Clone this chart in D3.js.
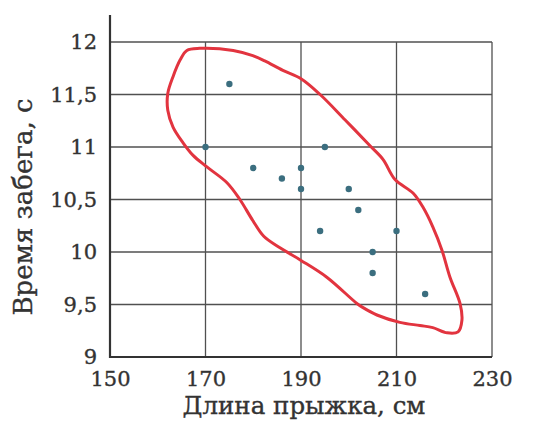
<!DOCTYPE html>
<html><head><meta charset="utf-8">
<script src="https://cdn.jsdelivr.net/npm/d3@7"></script>
<style>body{margin:0;background:#fff}svg{display:block}</style>
</head><body>
<svg id="c" width="536" height="421"></svg>
<script>
const xTicks = [150, 170, 190, 210, 230];
const yTicks = [9, 9.5, 10, 10.5, 11, 11.5, 12];
const jumpLength = [170, 175, 180, 186, 190, 190, 195, 200, 202, 194, 210, 205, 205, 216];
const runTime    = [11.0, 11.6, 10.8, 10.7, 10.8, 10.6, 11.0, 10.6, 10.4, 10.2, 10.2, 10.0, 9.8, 9.6];
const contourX = [166.1,168.8,175.8,179.9,182.4,186.2,190.0,194.0,199.2,204.5,207.2,209.7,213.5,215.5,217.6,219.5,221.2,223.3,223.7,222.9,220.6,217.6,214.9,210.7,205.9,203.0,201.7,195.4,190.0,185.6,182.2,179.9,177.2,174.5,170.3,167.4,165.3,163.2,162.1,162.1,163.2,164.7];
const contourY = [11.92,11.94,11.92,11.87,11.82,11.73,11.65,11.50,11.26,11.01,10.88,10.69,10.56,10.43,10.24,10.02,9.76,9.51,9.35,9.24,9.23,9.28,9.30,9.33,9.40,9.47,9.51,9.76,9.92,10.04,10.15,10.30,10.50,10.66,10.81,10.92,11.04,11.19,11.35,11.51,11.67,11.83];
const xTitle = "Длина прыжка, см";
const yTitle = "Время забега, с";

const svg = d3.select("#c");
const font = "'DejaVu Serif', serif";
const ink = "#333";
const x = d3.scaleLinear().domain([150, 230]).range([110, 492]);
const y = d3.scaleLinear().domain([9, 12]).range([357, 42]);

// grid
const grid = svg.append("g");
grid.selectAll("line.v").data(xTicks.slice(1)).join("line")
  .attr("x1", d => x(d)).attr("x2", d => x(d))
  .attr("y1", y(12)).attr("y2", y(9))
  .attr("stroke", "#505050").attr("stroke-width", 1.3);
grid.selectAll("line.h").data(yTicks.slice(1)).join("line")
  .attr("x1", x(150)).attr("x2", x(230))
  .attr("y1", d => y(d)).attr("y2", d => y(d))
  .attr("stroke", "#505050").attr("stroke-width", 1.3);

// axis lines
svg.append("line").attr("x1", x(150)).attr("x2", x(150)).attr("y1", 15).attr("y2", y(9) + 1)
  .attr("stroke", ink).attr("stroke-width", 2.2);
svg.append("line").attr("x1", x(150) - 1).attr("x2", x(230)).attr("y1", y(9)).attr("y2", y(9))
  .attr("stroke", ink).attr("stroke-width", 2.2);

function styleText(sel, size) {
  sel.attr("font-family", font).attr("font-size", size).attr("fill", ink)
     .attr("stroke", ink).attr("stroke-width", 0.35);
}

// tick labels via axes
const yAxis = d3.axisLeft(y).tickValues(yTicks).tickSize(0).tickPadding(13)
  .tickFormat(d => String(d).replace(".", ","));
const gy = svg.append("g").attr("transform", `translate(${x(150)},0)`).call(yAxis);
gy.select(".domain").remove();
styleText(gy.selectAll("text"), 21);

const xAxis = d3.axisBottom(x).tickValues(xTicks).tickSize(0).tickPadding(14);
const gx = svg.append("g").attr("transform", `translate(0,${y(9)})`).call(xAxis);
gx.select(".domain").remove();
styleText(gx.selectAll("text"), 21);

// contour
const pts = contourX.map((v, i) => [x(v), y(contourY[i])]);
svg.append("path").attr("d", d3.line().curve(d3.curveCatmullRomClosed.alpha(0.5))(pts))
  .attr("fill", "none").attr("stroke", "#e2343f").attr("stroke-width", 3);

// points
svg.selectAll("circle").data(jumpLength).join("circle")
  .attr("cx", d => x(d)).attr("cy", (d, i) => y(runTime[i])).attr("r", 3.2)
  .attr("fill", "#3b6e7f");

// titles
styleText(svg.append("text").attr("x", 304).attr("y", 414).attr("text-anchor", "middle").text(xTitle), 24.5);
styleText(svg.append("text").attr("transform", "translate(32,207) rotate(-90)").attr("text-anchor", "middle").text(yTitle), 26);
</script>
</body></html>
